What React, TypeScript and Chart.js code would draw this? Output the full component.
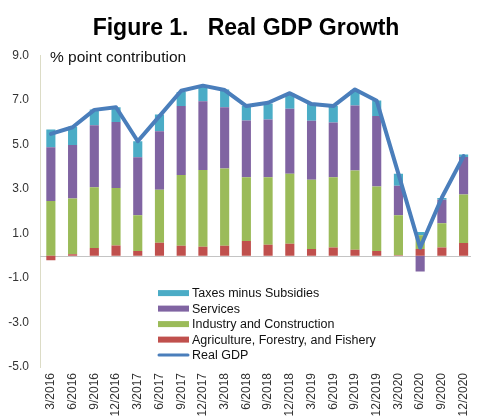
import { useEffect, useRef } from 'react';
import { Chart, registerables } from 'chart.js';

Chart.register(...registerables);

const categories = [
  '3/2016', '6/2016', '9/2016', '12/2016',
  '3/2017', '6/2017', '9/2017', '12/2017',
  '3/2018', '6/2018', '9/2018', '12/2018',
  '3/2019', '6/2019', '9/2019', '12/2019',
  '3/2020', '6/2020', '9/2020', '12/2020',
];

const agriculture = [-0.2, 0.07, 0.35, 0.46, 0.22, 0.59, 0.45, 0.41, 0.45, 0.66, 0.5, 0.54, 0.3, 0.37, 0.27, 0.22, 0.02, 0.3, 0.37, 0.57];
const industry = [2.46, 2.5, 2.73, 2.59, 1.6, 2.38, 3.18, 3.45, 3.47, 2.87, 3.03, 3.15, 3.12, 3.16, 3.56, 2.9, 1.8, 0.62, 1.09, 2.18];
const services = [2.42, 2.41, 2.79, 2.96, 2.61, 2.63, 3.1, 3.09, 2.76, 2.55, 2.6, 2.92, 2.65, 2.46, 2.93, 3.16, 1.33, -0.71, 1.06, 1.69];
const taxes = [0.8, 0.82, 0.71, 0.67, 0.72, 0.75, 0.63, 0.68, 0.8, 0.65, 0.72, 0.69, 0.76, 0.74, 0.69, 0.7, 0.54, 0.15, 0.08, 0.11];
const realGdp = [5.48, 5.78, 6.56, 6.68, 5.15, 6.28, 7.42, 7.65, 7.45, 6.73, 6.88, 7.31, 6.82, 6.73, 7.48, 6.97, 3.68, 0.36, 2.62, 4.48];

const yTicks = [-5, -3, -1, 1, 3, 5, 7, 9];

const TITLE = 'Figure 1.   Real GDP Growth';
const Y_NOTE = '% point contribution';

const C_TAX = '#4BACC6';
const C_SERV = '#8064A2';
const C_IND = '#9BBB59';
const C_AGR = '#C0504D';
const C_GDP = '#4A7EBB';

const FONT = "'Liberation Sans', Arial, Helvetica, sans-serif";

const extrasPlugin = {
  id: 'extras',
  beforeDatasetsDraw(chart: any) {
    const { ctx, chartArea, scales } = chart;
    const y0 = Math.round(scales.y.getPixelForValue(0)) + 0.5;
    ctx.save();
    ctx.strokeStyle = '#C4C4C4';
    ctx.lineWidth = 1;
    ctx.beginPath();
    ctx.moveTo(chartArea.left, y0);
    ctx.lineTo(chartArea.right, y0);
    ctx.stroke();
    ctx.restore();
  },
  afterDraw(chart: any) {
    const { ctx, chartArea } = chart;
    ctx.save();
    ctx.fillStyle = '#111';
    ctx.font = `15.5px ${FONT}`;
    ctx.textBaseline = 'alphabetic';
    ctx.textAlign = 'left';
    ctx.fillText(Y_NOTE, chartArea.left + 10, chartArea.top + 6);

    const ds = chart.data.datasets;
    const bars = ds.filter((d: any) => d.type !== 'line').slice().reverse();
    const lines = ds.filter((d: any) => d.type === 'line');
    const items = [...bars, ...lines];
    const mx = chartArea.left + 118;
    const mw = 31;
    const tx = chartArea.left + 152;
    const rowTop = chartArea.top + 237.5;
    const rowH = 15.5;
    ctx.font = `12.5px ${FONT}`;
    ctx.textBaseline = 'middle';
    items.forEach((d: any, i: number) => {
      const cy = rowTop + i * rowH;
      if (d.type === 'line') {
        ctx.strokeStyle = d.borderColor;
        ctx.lineWidth = 3;
        ctx.lineCap = 'round';
        ctx.beginPath();
        ctx.moveTo(mx + 1, cy);
        ctx.lineTo(mx + mw - 1, cy);
        ctx.stroke();
      } else {
        ctx.fillStyle = d.backgroundColor;
        ctx.fillRect(mx, cy - 3, mw, 6);
      }
      ctx.fillStyle = '#111';
      ctx.fillText(d.label, tx, cy + 0.5);
    });
    ctx.restore();
  },
};

export default function App() {
  const ref = useRef<HTMLCanvasElement>(null);

  useEffect(() => {
    document.documentElement.style.overflow = 'hidden';
    document.body.style.overflow = 'hidden';
    const canvas = ref.current;
    if (!canvas) return;
    Chart.defaults.font.family = FONT;

    const chart = new Chart(canvas, {
      type: 'bar',
      data: {
        labels: categories,
        datasets: [
          {
            type: 'line',
            label: 'Real GDP',
            data: realGdp,
            borderColor: C_GDP,
            backgroundColor: C_GDP,
            borderWidth: 4,
            pointRadius: 0,
            pointHoverRadius: 0,
            fill: false,
            tension: 0,
            borderJoinStyle: 'round',
            borderCapStyle: 'round',
            stack: 'gdp',
            order: 0,
          } as any,
          { type: 'bar', label: 'Agriculture, Forestry, and Fishery', data: agriculture, backgroundColor: C_AGR, stack: 'bars', order: 1 },
          { type: 'bar', label: 'Industry and Construction', data: industry, backgroundColor: C_IND, stack: 'bars', order: 1 },
          { type: 'bar', label: 'Services', data: services, backgroundColor: C_SERV, stack: 'bars', order: 1 },
          { type: 'bar', label: 'Taxes minus Subsidies', data: taxes, backgroundColor: C_TAX, stack: 'bars', order: 1 },
        ],
      },
      options: {
        animation: false,
        responsive: false,
        events: [],
        layout: { padding: 0 },
        datasets: {
          bar: { barPercentage: 0.42, categoryPercentage: 1 },
        },
        plugins: {
          legend: { display: false },
          tooltip: { enabled: false },
          title: {
            display: true,
            text: TITLE,
            color: '#000',
            font: { size: 23, weight: 'bold', family: FONT },
            padding: { top: 7, bottom: 13 },
          },
        },
        scales: {
          x: {
            stacked: true,
            offset: true,
            grid: { display: false, drawTicks: false },
            border: { display: false },
            ticks: {
              autoSkip: false,
              minRotation: 90,
              maxRotation: 90,
              padding: 6,
              color: '#333',
              font: { size: 12, family: FONT },
            },
            afterFit: (scale: any) => {
              scale.height = 71;
            },
          },
          y: {
            stacked: true,
            min: -5,
            max: 9,
            grid: { display: false, drawTicks: false },
            border: { display: true, color: '#DCDCC6', width: 1 },
            afterBuildTicks: (scale: any) => {
              scale.ticks = yTicks.map((v) => ({ value: v }));
            },
            ticks: {
              padding: 11,
              color: '#333',
              font: { size: 12, family: FONT },
              callback: (v: any) => Number(v).toFixed(1),
            },
            afterFit: (scale: any) => {
              scale.width = 32;
            },
          },
        },
      },
      plugins: [extrasPlugin],
    });

    return () => chart.destroy();
  }, []);

  return (
    <div style={{ width: 471, height: 410, overflow: 'hidden', position: 'relative' }}>
      <canvas ref={ref} width={476} height={430} style={{ display: 'block', width: 476, height: 430 }} />
    </div>
  );
}
